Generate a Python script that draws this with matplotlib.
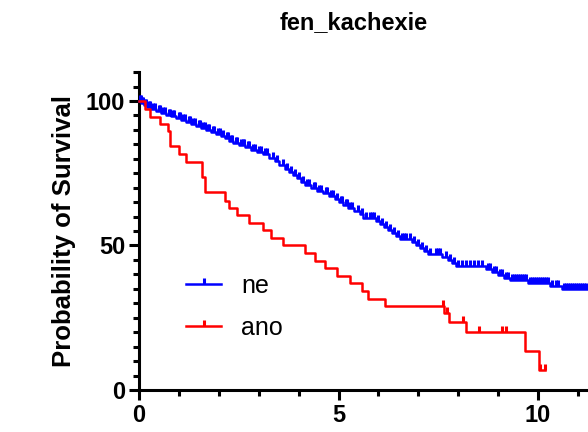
import numpy as np
import matplotlib
matplotlib.use("Agg")
import matplotlib.pyplot as plt
from matplotlib.path import Path

plt.rcParams['font.family'] = ['Liberation Sans', 'DejaVu Sans']

# skupina "ne" (modra)
ne_t = [0, 0.05, 0.12, 0.2, 0.3, 0.42, 0.55, 0.68, 0.8, 0.92, 1.05, 1.18, 1.3, 1.42, 1.55,
        1.68, 1.8, 1.92, 2.05, 2.15, 2.25, 2.35, 2.5, 2.65, 2.8, 2.95, 3.1, 3.25, 3.4, 3.52,
        3.65, 3.75, 3.85, 3.95, 4.05, 4.15, 4.3, 4.45, 4.6, 4.75, 4.9, 5.0, 5.12, 5.25, 5.4,
        5.55, 5.62, 5.95, 6.05, 6.15, 6.25, 6.35, 6.45, 6.55, 6.85, 6.95, 7.05, 7.15, 7.25, 7.6,
        7.75, 7.85, 7.95, 8.7, 8.85, 9.0, 9.15, 9.3, 9.75, 10.3, 10.6]
ne_s = [100, 99.3, 98.7, 98.0, 97.3, 96.7, 96.0, 95.3, 94.7, 94.0, 93.3, 92.7, 92.0, 91.3, 90.6,
        90.0, 89.3, 88.6, 87.9, 87.2, 86.3, 85.5, 84.7, 83.9, 83.1, 82.3, 81.5, 80.4, 79.2, 78.0,
        76.6, 75.5, 74.3, 73.2, 72.1, 71.0, 70.0, 69.0, 68.0, 67.0, 66.0, 65.0, 64.0, 63.0, 62.0,
        60.9, 59.6, 58.5, 57.5, 56.5, 55.4, 54.4, 53.4, 52.3, 51.3, 50.2, 49.2, 48.2, 47.1, 46.0,
        45.0, 44.0, 43.0, 42.0, 40.9, 39.9, 38.9, 37.9, 37.0, 36.0, 35.0]
ne_cens = [0.02, 0.04, 0.08, 0.1, 0.15, 0.18, 0.25, 0.28, 0.35, 0.4, 0.5, 0.53, 0.6, 0.65,
           0.75, 0.78, 0.85, 0.88, 1.0, 1.03, 1.1, 1.15, 1.25, 1.28, 1.35, 1.4, 1.5, 1.53, 1.6,
           1.65, 1.72, 1.76, 1.85, 1.88, 1.98, 2.02, 2.1, 2.2, 2.23, 2.3, 2.33, 2.42, 2.46, 2.55,
           2.6, 2.63, 2.72, 2.76, 2.85, 2.9, 3.0, 3.05, 3.15, 3.2, 3.35, 3.45, 3.6, 3.7, 3.8,
           3.9, 4.0, 4.1, 4.2, 4.25, 4.38, 4.42, 4.5, 4.55, 4.68, 4.72, 4.8, 4.85, 4.95, 5.05,
           5.08, 5.18, 5.22, 5.3, 5.35, 5.48, 5.58, 5.7, 5.78, 5.85, 5.9, 6.0, 6.1, 6.2, 6.3, 6.4,
           6.5, 6.6, 6.65, 6.7, 6.78, 6.9, 7.0, 7.1, 7.2, 7.3, 7.45, 7.5, 7.55, 7.7, 7.8, 7.9,
           8.0, 8.1, 8.2, 8.3, 8.4, 8.5, 8.6, 8.75, 8.8, 8.9, 8.95, 9.05, 9.1, 9.2, 9.25, 9.35,
           9.4, 9.45, 9.5, 9.55, 9.6, 9.65, 9.7, 9.8, 9.85, 9.9, 9.95, 10.0, 10.05, 10.1, 10.15,
           10.2, 10.25, 10.35, 10.45, 10.5, 10.65, 10.7, 10.75, 10.8, 10.85, 10.9, 10.95, 11.0,
           11.05, 11.1, 11.15, 11.2, 11.3]
ne_end = 11.6

# skupina "ano" (cervena)
ano_t = [0, 0.15, 0.28, 0.53, 0.73, 0.78, 0.99, 1.17, 1.57, 1.65, 2.16, 2.26, 2.45, 2.76, 3.10,
         3.30, 3.62, 4.16, 4.41, 4.66, 4.97, 5.29, 5.58, 5.75, 6.17, 7.65, 7.78, 8.20, 9.67, 10.03]
ano_s = [100, 97.3, 94.6, 92.0, 89.5, 84.3, 81.5, 79.0, 73.8, 68.4, 65.4, 63.0, 60.4, 57.9, 55.2,
         52.7, 50.0, 47.4, 44.8, 42.2, 39.5, 37.0, 34.2, 31.5, 28.9, 26.5, 23.4, 20.2, 13.5, 7.0]
ano_cens = [7.62, 7.71, 8.13, 8.52, 9.09, 9.21, 10.06, 10.17]
ano_end = 10.17

tick_up = Path([(0, 0), (0, 1)])


def km(ax, t, s, cens, end, color, label):
    tt = list(t) + [end]
    ss = list(s) + [s[-1]]
    ax.step(tt, ss, where='post', color=color, lw=1.8, clip_on=False, zorder=3)
    idx = np.searchsorted(t, cens, side='right') - 1
    ax.plot(cens, np.array(s)[idx], ls='none', marker=tick_up, ms=9, mew=2.2,
            color=color, zorder=3)
    ax.plot([], [], color=color, lw=1.8, marker=tick_up, ms=9, mew=2.2, label=label)


fig = plt.figure(figsize=(5.88, 4.32), dpi=100)
ax = fig.add_axes([0.2364, 0.0972, 0.8143, 0.736])

km(ax, ne_t, ne_s, ne_cens, ne_end, '#0000ff', 'ne')
km(ax, ano_t, ano_s, ano_cens, ano_end, '#ff0000', 'ano')

ax.set_xlim(0, 12)
ax.set_ylim(0, 110)
ax.set_xticks([0, 5, 10])
ax.set_xticks(np.arange(0, 13, 1), minor=True)
ax.set_yticks([0, 50, 100])
ax.set_yticks(np.arange(0, 111, 5), minor=True)
ax.spines['top'].set_visible(False)
ax.spines['right'].set_visible(False)
for sp in ['left', 'bottom']:
    ax.spines[sp].set_linewidth(2.2)
ax.tick_params(which='major', length=7, width=2.2, labelsize=17, pad=3)
ax.tick_params(which='minor', length=4, width=2.2)
for lab in ax.get_xticklabels() + ax.get_yticklabels():
    lab.set_fontweight('bold')

ax.set_ylabel('Probability of Survival', fontsize=18.5, fontweight='bold', labelpad=7)
fig.text(0.602, 0.948, 'fen_kachexie', fontsize=17, fontweight='bold', ha='center', va='center')

ax.legend(loc='upper left', bbox_to_anchor=(0.052, 0.435), frameon=False, fontsize=18,
          handlelength=1.4, labelspacing=0.7, handletextpad=0.8)

fig.savefig('out.png', dpi=100)
